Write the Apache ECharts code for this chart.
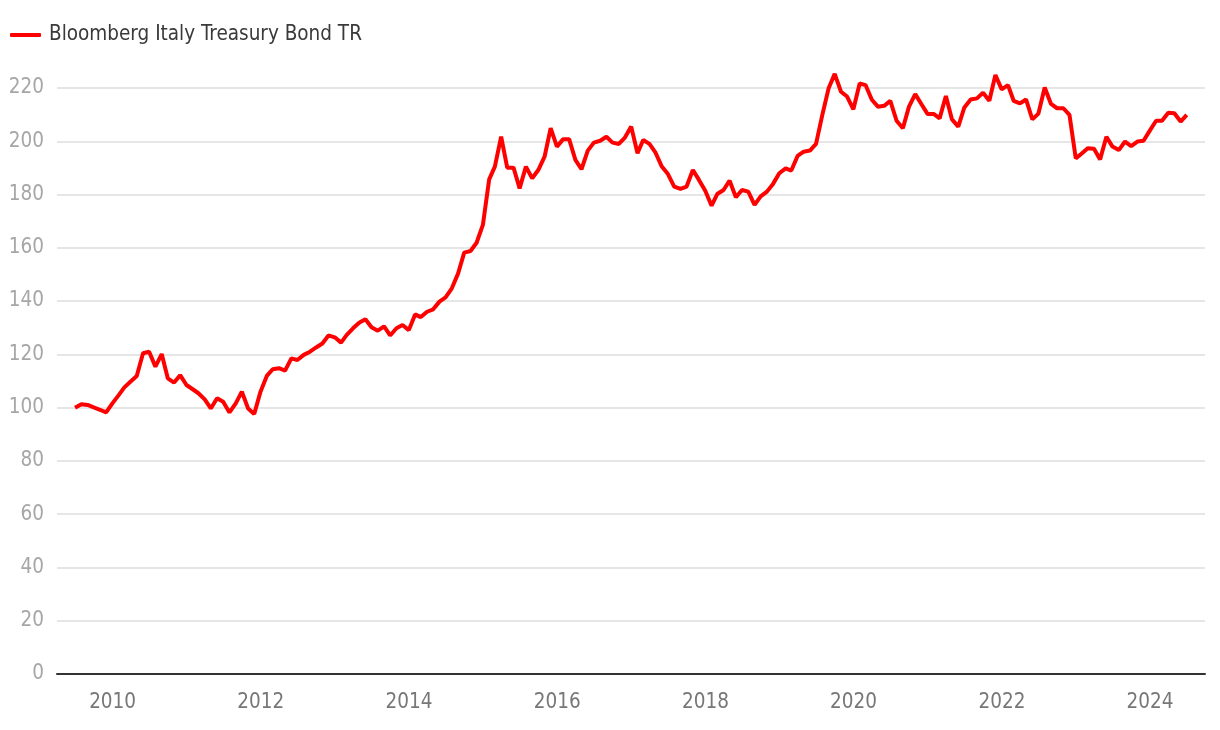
<!DOCTYPE html>
<html>
<head>
<meta charset="utf-8">
<script src="https://cdn.jsdelivr.net/npm/echarts@6/dist/echarts.min.js"></script>
<style>
html,body{margin:0;padding:0;background:#ffffff;}
#chart{width:1220px;height:730px;}
</style>
</head>
<body>
<div id="chart"></div>
<script>
// ---- data ----
const seriesName = 'Bloomberg Italy Treasury Bond TR';
const startYear = 2009;   // first observation: end of June 2009
const startMonth = 6;
const values = [
  100.0,101.3,101.0,100.1,99.2,98.2,101.6,104.7,107.6,109.8,111.9,120.4,
  121.0,115.4,120.1,111.0,109.4,112.2,108.5,106.9,105.4,103.1,99.7,103.5,
  102.2,98.2,101.6,106.0,99.7,97.6,106.0,111.9,114.4,114.8,113.9,118.5,
  117.9,119.8,121.0,122.6,124.1,127.1,126.4,124.4,127.3,129.8,131.9,133.2,
  130.2,128.9,130.5,127.1,129.8,131.0,129.1,135.0,134.0,136.0,136.9,139.8,
  141.4,144.8,150.4,158.2,158.8,161.9,168.6,185.7,190.5,201.7,190.1,190.1,
  182.3,190.5,186.1,189.2,194.2,204.9,198.0,200.8,200.8,193.0,189.5,196.5,
  199.5,200.2,201.7,199.5,199.0,201.4,205.5,195.5,200.5,199.0,195.7,190.5,
  187.7,183.0,182.1,183.0,189.2,185.5,181.4,175.8,180.2,181.7,185.2,179.0,
  181.7,181.1,176.1,179.3,181.1,184.0,188.0,189.8,189.0,194.5,196.1,196.5,
  199.0,209.9,219.9,225.3,218.6,216.8,212.0,221.7,221.1,215.6,213.0,213.3,
  215.2,207.7,204.9,213.0,217.7,214.0,210.2,210.2,208.6,217.0,208.2,205.5,
  212.7,215.7,216.1,218.2,215.2,224.9,219.5,221.1,215.2,214.2,215.7,208.2,
  210.4,220.2,214.0,212.4,212.4,209.9,193.6,195.5,197.4,197.2,193.2,201.7,
  198.0,196.7,199.9,198.2,199.9,200.2,204.0,207.7,207.7,210.7,210.5,207.4,
  209.9
];
const tickYears = [2010, 2012, 2014, 2016, 2018, 2020, 2022, 2024];

// month-end dates (timestamps) for each observation
const dates = values.map((_, i) => new Date(startYear, startMonth + i, 0).getTime());
const lineData = values.map((v, i) => [dates[i], v]);
const tickValues = tickYears.map(y => new Date(y, 0, 1).getTime());

const FONT = "'Liberation Sans Narrow','DejaVu Sans Condensed','Arial Narrow',sans-serif";
const FS = 20.5;

const chart = echarts.init(document.getElementById('chart'), null, {renderer: 'canvas'});
chart.setOption({
  animation: false,
  backgroundColor: '#ffffff',
  textStyle: {fontFamily: FONT},
  grid: {left: 57, right: 15, top: 88, bottom: 56, containLabel: false},
  legend: {
    left: 10,
    top: 21,
    padding: 0,
    icon: 'roundRect',
    itemWidth: 31,
    itemHeight: 4,
    textStyle: {fontFamily: FONT, fontSize: FS, color: '#3a3a3a', padding: [0, 0, 0, 3], lineHeight: 28},
    data: [seriesName]
  },
  xAxis: {
    type: 'value',
    min: new Date(2009, 3, 2).getTime(),
    max: new Date(2024, 8, 28).getTime(),
    axisLine: {show: true, onZero: false, lineStyle: {color: '#333333', width: 2}},
    axisTick: {show: false},
    splitLine: {show: false},
    axisLabel: {
      customValues: tickValues,
      formatter: v => String(new Date(v).getFullYear()),
      fontFamily: FONT,
      fontSize: FS,
      color: '#777777',
      margin: 18,
      showMinLabel: true,
      showMaxLabel: true
    }
  },
  yAxis: {
    type: 'value',
    min: 0,
    max: 220,
    interval: 20,
    axisLine: {show: false},
    axisTick: {show: false},
    splitLine: {show: true, lineStyle: {color: '#e6e6e6', width: 2}},
    axisLabel: {fontFamily: FONT, fontSize: FS, color: '#a6a6a6', margin: 13}
  },
  series: [{
    name: seriesName,
    type: 'line',
    data: lineData,
    showSymbol: false,
    symbol: 'none',
    clip: false,
    lineStyle: {color: '#ff0000', width: 4},
    itemStyle: {color: '#ff0000'}
  }]
});
</script>
</body>
</html>
